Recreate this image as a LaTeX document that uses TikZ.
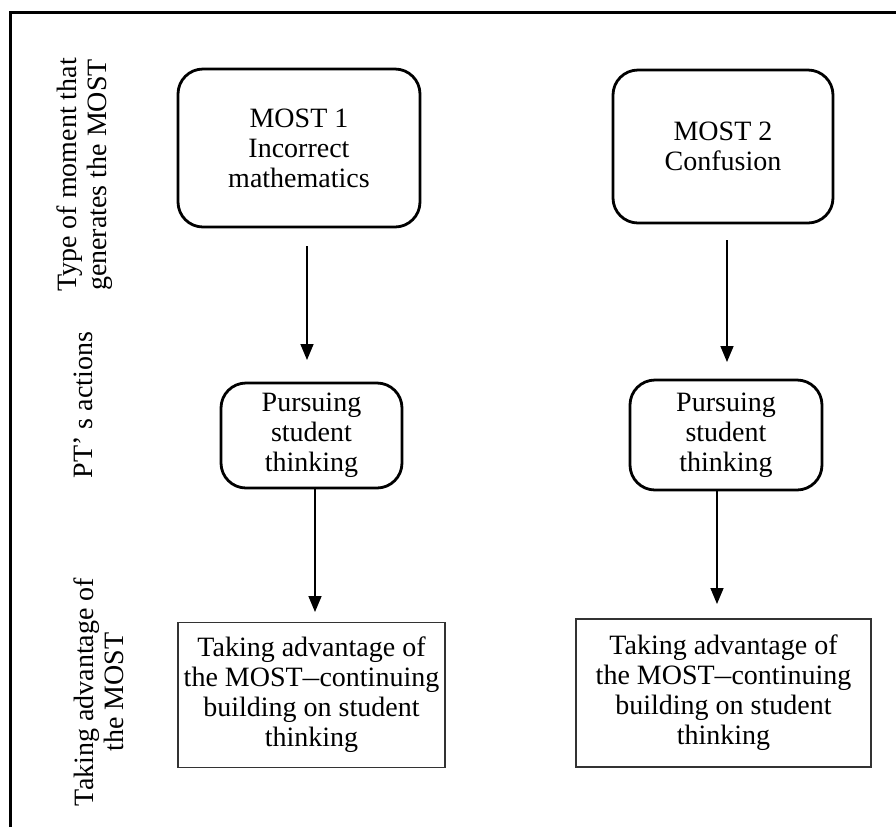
\documentclass[tikz,border=0pt]{standalone}
\usepackage{fontspec}
\setmainfont{Liberation Serif}
\usetikzlibrary{arrows.meta}
\newcommand{\shortdash}{\scalebox{0.6}[1]{—}}

\begin{document}
\begin{tikzpicture}[x=0.5pt,y=-0.5pt,
  txt/.style={font=\fontsize{14}{15}\selectfont},
  most/.style={txt,draw,rounded corners=12.5pt,line width=1.4pt,align=center,inner sep=0pt},
  take/.style={txt,draw=black!80,line width=0.9pt,align=center,inner sep=0pt},
  rowlabel/.style={txt,rotate=90,align=center,inner sep=0pt},
  flow/.style={-{Triangle[width=6.5pt,length=8pt]},line width=0.8pt}]
  \useasboundingbox (0,0) rectangle (896,827);

  % frame (only top and left edges show)
  \draw[line width=1.5pt] (10,827) -- (10,12) -- (896,12);

  % row labels
  \node[rowlabel] (row1) at (85,175) {Type of moment that\\generates the MOST};
  \node[rowlabel] (row2) at (83,405) {PT’ s actions};
  \node[rowlabel] (row3) at (99,692) {Taking advantage of\\the MOST};

  % boxes
  \node[most,minimum width=121pt,minimum height=79pt] (most1) at (299,148)
    {MOST 1\\Incorrect\\mathematics};
  \node[most,minimum width=110pt,minimum height=76.5pt] (most2) at (723,146.5)
    {MOST 2\\Confusion};
  \node[most,minimum width=90.5pt,minimum height=52.5pt] (pursue1) at (311.5,435.5)
    {Pursuing\\student\\thinking};
  \node[most,minimum width=96pt,minimum height=55pt] (pursue2) at (726,435)
    {Pursuing\\student\\thinking};
  \node[take,minimum width=133.5pt,minimum height=72.5pt] (take1) at (311.5,695)
    {Taking advantage of\\the MOST\shortdash continuing\\building on student\\thinking};
  \node[take,minimum width=147.5pt,minimum height=74pt] (take2) at (723.5,693)
    {Taking advantage of\\the MOST\shortdash continuing\\building on student\\thinking};

  % arrows
  \coordinate (start1) at (307,246);
  \coordinate (tip1) at (307,360);
  \coordinate (start2) at (727,240);
  \coordinate (tip2) at (727,362);
  \coordinate (tip3) at (315,612);
  \coordinate (tip4) at (717,604);
  \draw[flow] (start1) -- (tip1);
  \draw[flow] (start2) -- (tip2);
  \draw[flow] (pursue1.south -| tip3) -- (tip3);
  \draw[flow] (pursue2.south -| tip4) -- (tip4);
\end{tikzpicture}
\end{document}
